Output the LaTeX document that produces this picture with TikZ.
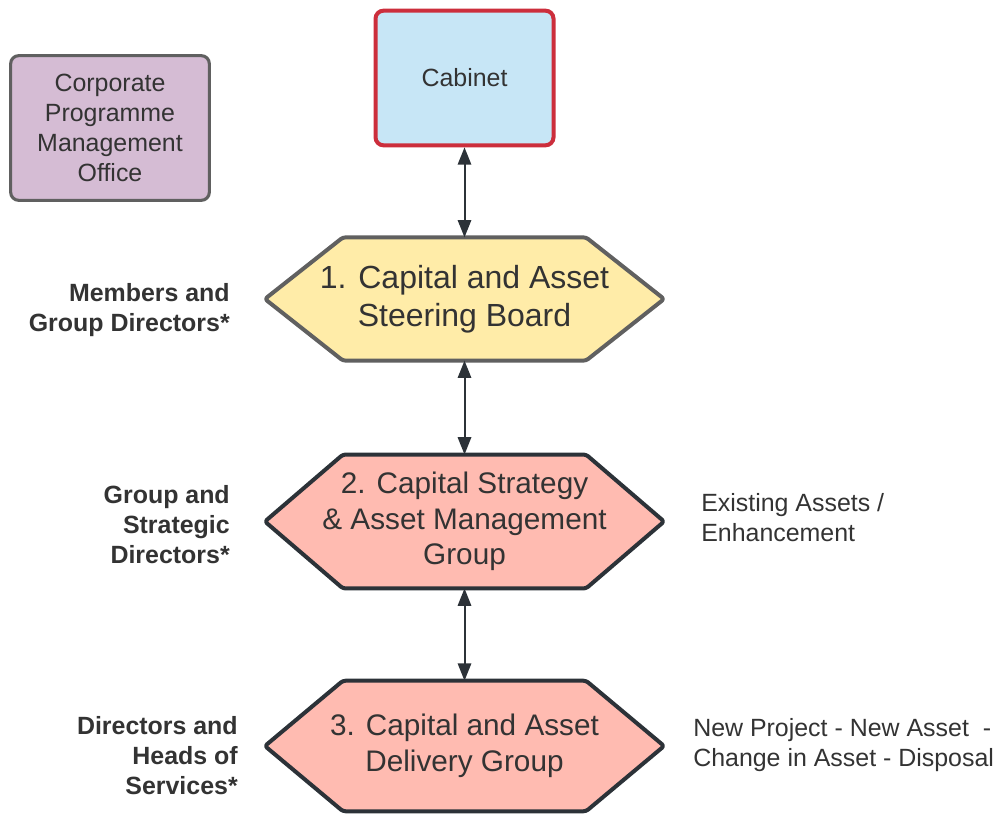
\documentclass[tikz,border=0pt]{standalone}
\usepackage{fontspec}
\setmainfont{Liberation Sans}
\usetikzlibrary{arrows.meta,backgrounds,calc}
\definecolor{lucidtext}{RGB}{51,51,51}
\definecolor{cabinetblue}{RGB}{199,230,246}
\definecolor{cabinetred}{RGB}{204,46,60}
\definecolor{officepurple}{RGB}{213,188,212}
\definecolor{boardyellow}{RGB}{255,236,168}
\definecolor{grouppink}{RGB}{255,187,177}
\definecolor{bordergray}{RGB}{96,96,96}
\definecolor{borderdark}{RGB}{44,50,56}

\begin{document}
\begin{tikzpicture}[x=0.75pt,y=-0.75pt,
        box/.style={rectangle,rounded corners=6pt,inner sep=0pt,align=center,text=lucidtext,
          font=\fontsize{18.7}{22.5}\selectfont},
        hexbox/.style={rectangle,inner sep=0pt,minimum width=299pt,align=center,text=lucidtext,
          font=\fontsize{22.3}{26.8}\selectfont},
        role/.style={anchor=east,inner sep=0pt,align=right,text=lucidtext,
          font=\bfseries\fontsize{18.7}{22.5}\selectfont},
        note/.style={anchor=west,inner sep=0pt,align=left,text=lucidtext,
          font=\fontsize{18.7}{22.5}\selectfont},
        link/.style={draw=borderdark,line width=1.5pt,
          {Triangle[width=10pt,length=13pt]}-{Triangle[width=10pt,length=13pt]}},
        ]
        \useasboundingbox (0,0) rectangle (994,816);
        % boxes at the top
        \node[box,draw=bordergray,fill=officepurple,line width=2.3pt,minimum width=149pt,minimum height=108.5pt]
          (office) at (110,128) {Corporate\\Programme\\Management\\Office};
        \node[box,draw=cabinetred,fill=cabinetblue,line width=3pt,minimum width=133.5pt,minimum height=101pt]
          (cabinet) at (464.5,78) {Cabinet};
        % the three groups
        \node[hexbox,minimum height=92pt,font=\fontsize{24}{28.5}\selectfont] (board) at (464.5,299) {1. Capital and Asset\\Steering Board};
        \node[hexbox,minimum height=100pt] (strategy) at (464.5,521.5) {2. Capital Strategy\\\& Asset Management\\Group};
        \node[hexbox,minimum height=97.5pt] (delivery) at (464.5,746) {3. Capital and Asset\\Delivery Group};
        \begin{scope}[on background layer]
          \foreach \n/\fc/\dc in {board/boardyellow/bordergray,strategy/grouppink/borderdark,delivery/grouppink/borderdark}
            \draw[fill=\fc,draw=\dc,line width=3pt,line join=round,rounded corners=2pt]
              (\n.west) -- ($(\n.north west)+(78,0)$) -- ($(\n.north east)+(-78,0)$) -- (\n.east)
              -- ($(\n.south east)+(-78,0)$) -- ($(\n.south west)+(78,0)$) -- cycle;
        \end{scope}
        \draw[link] (cabinet) -- (board);
        \draw[link] (board) -- (strategy);
        \draw[link] (strategy) -- (delivery);
        % who sits on them
        \node[role] (members) at (230,310) {Members and\\Group Directors*};
        \node[role] (strategic) at (230,525) {Group and\\Strategic\\Directors*};
        \node[role] (heads) at (238,756) {Directors and\\Heads of\\Services*};
        \node[note] (existing) at (701,518) {Existing Assets /\\Enhancement};
        \node[note] (newasset) at (693,745) {New Project - New Asset\ \ -\\Change in Asset - Disposal};
      \end{tikzpicture}
\end{document}
